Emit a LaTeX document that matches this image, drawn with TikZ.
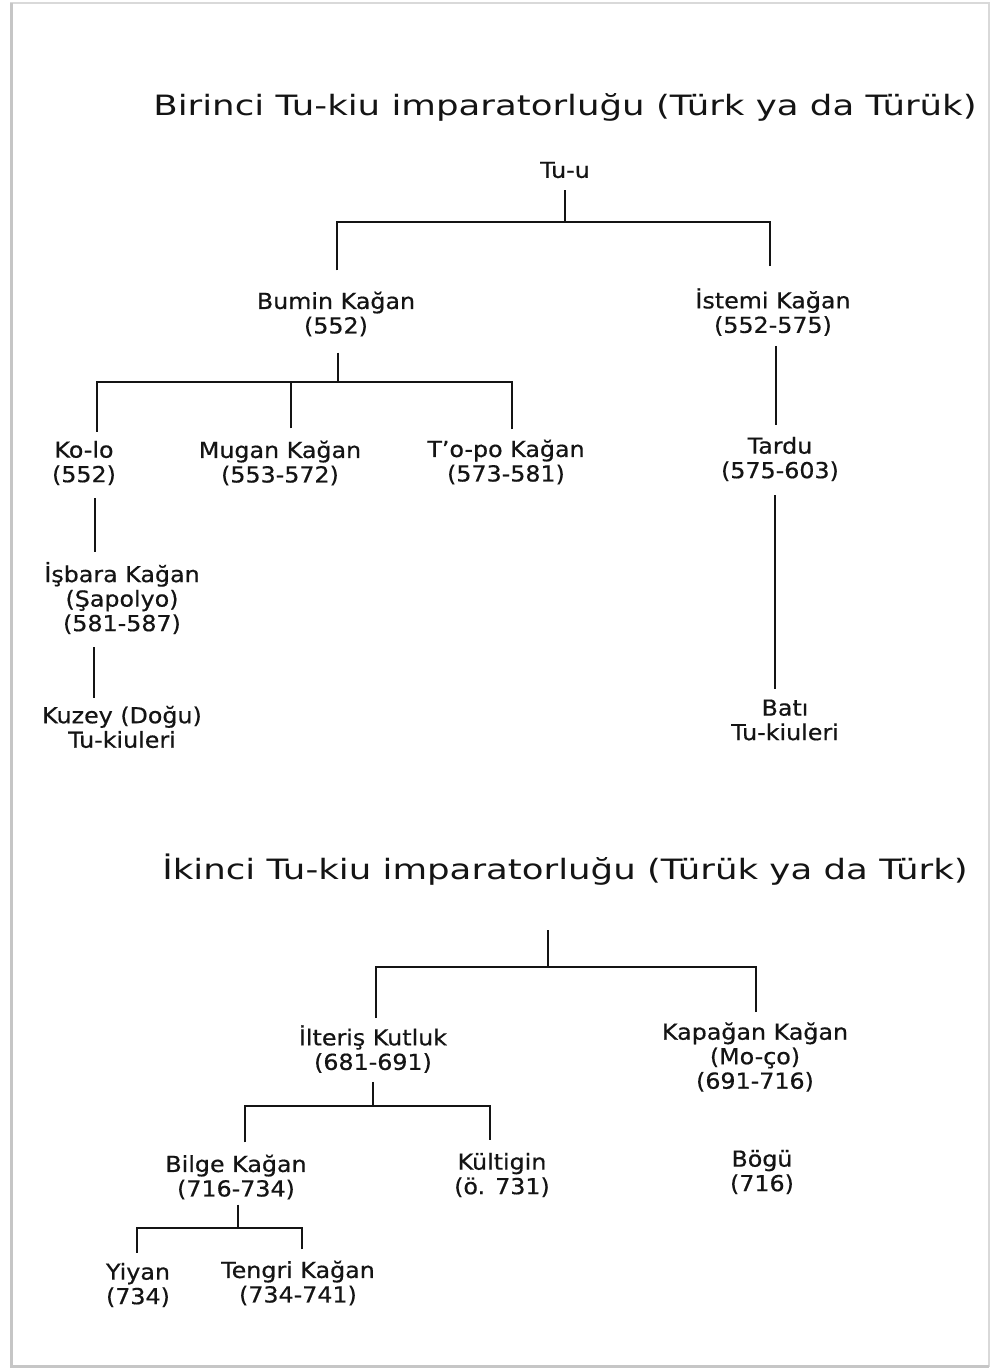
\documentclass[tikz,border=0pt]{standalone}
\usepackage{fontspec}
\setmainfont{DejaVu Sans}
\newfontfamily\lblfont[FakeStretch=1.08,FakeBold=0.6]{DejaVu Sans}
\newfontfamily\ttlfont[FakeStretch=1.27]{DejaVu Sans}
\begin{document}
\begin{tikzpicture}[x=1pt,y=-1pt,
  lbl/.style={align=center, inner sep=0pt, text=black!92, font=\lblfont\fontsize{22}{24.5}\selectfont},
  lblc/.style={align=center, inner sep=0pt, text=black!92, font=\lblfont\fontsize{22}{24.5}\selectfont},
  ttl/.style={inner sep=0pt, text=black!92, font=\ttlfont\fontsize{28}{32}\selectfont},
  conn/.style={line width=2.8pt, black!92},
  frame/.style={draw=gray!30, line width=1.5pt}
  ]
\useasboundingbox (0,0) rectangle (993,1371);
% page frame
\draw[frame] (11,3) rectangle (989,1366);
\draw[gray!45, line width=3pt] (11,3) -- (11,1366) -- (989,1366);

% ---------- first empire ----------
\node[ttl] (t1) at (565,107) {Birinci Tu-kiu imparatorluğu (Türk ya da Türük)};
\node[lbl] (tuu) at (565,170) {Tu-u};
\node[lbl] (bumin) at (336,314) {Bumin Kağan\\(552)};
\node[lbl] (istemi) at (773,312) {İstemi Kağan\\(552-575)};
\node[lbl] (kolo) at (84,463) {Ko-lo\\(552)};
\node[lbl] (mugan) at (280,463) {Mugan Kağan\\(553-572)};
\node[lbl] (topo) at (506,462) {T’o-po Kağan\\(573-581)};
\node[lbl] (tardu) at (780,459) {Tardu\\(575-603)};
\node[lbl] (isbara) at (122,598) {İşbara Kağan\\(Şapolyo)\\(581-587)};
\node[lbl] (kuzey) at (122,727) {Kuzey (Doğu)\\Tu-kiuleri};
\node[lbl] (bati) at (785,720) {Batı\\Tu-kiuleri};

\coordinate (f1) at (565,222);
\coordinate (f2) at (338,382);
\draw[conn, shorten <=12pt] (tuu.south) -- (f1);
\draw[conn, shorten <=21pt] ([xshift=1pt]bumin.north) |- (f1);
\draw[conn, shorten <=22pt] ([xshift=-3pt]istemi.north) |- (f1);
\draw[conn, shorten <=16pt] (f2 |- bumin.south) -- (f2);
\draw[conn, shorten <=9pt] ([xshift=13pt]kolo.north) |- (f2);
\draw[conn, shorten <=12pt] ([xshift=11pt]mugan.north) |- (f2);
\draw[conn, shorten <=10pt] ([xshift=6pt]topo.north) |- (f2);
\draw[conn, shorten <=10pt, shorten >=12pt] ([xshift=3pt]istemi.south) -- ([xshift=-4pt]tardu.north);
\draw[conn, shorten <=14pt, shorten >=10pt] ([xshift=-5pt]tardu.south) -- ([xshift=-10pt]bati.north);
\draw[conn, shorten <=13pt, shorten >=10pt] ([xshift=11pt]kolo.south) -- ([xshift=-27pt]isbara.north);
\draw[conn, shorten <=13pt, shorten >=8pt] ([xshift=-28pt]isbara.south) -- ([xshift=-28pt]kuzey.north);

% ---------- second empire ----------
\node[ttl] (t2) at (565,870) {İkinci Tu-kiu imparatorluğu (Türük ya da Türk)};
\node[lblc] (ilteris) at (373,1049) {İlteriş Kutluk\\(681-691)};
\node[lblc] (kapagan) at (755,1057) {Kapağan Kağan\\(Mo-ço)\\(691-716)};
\node[lblc] (bilge) at (236,1177) {Bilge Kağan\\(716-734)};
\node[lblc] (kultigin) at (502,1175) {Kültigin\\(ö. 731)};
\node[lblc] (bogu) at (762,1172) {Bögü\\(716)};
\node[lblc] (yiyan) at (138,1285) {Yiyan\\(734)};
\node[lblc] (tengri) at (298,1283) {Tengri Kağan\\(734-741)};

\coordinate (root2) at (548,930);
\coordinate (f3) at (548,967);
\coordinate (f4) at (373,1106);
\coordinate (f5) at (238,1228);
\draw[conn] (root2) -- (f3);
\draw[conn, shorten <=7pt] ([xshift=3pt]ilteris.north) |- (f3);
\draw[conn, shorten <=10pt] ([xshift=1pt]kapagan.north) |- (f3);
\draw[conn, shorten <=9pt] (f4 |- ilteris.south) -- (f4);
\draw[conn, shorten <=12pt] ([xshift=9pt]bilge.north) |- (f4);
\draw[conn, shorten <=13pt] ([xshift=-12pt]kultigin.north) |- (f4);
\draw[conn, shorten <=5pt] (f5 |- bilge.south) -- (f5);
\draw[conn, shorten <=10pt] ([xshift=-1pt]yiyan.north) |- (f5);
\draw[conn, shorten <=11pt] ([xshift=4pt]tengri.north) |- (f5);
\end{tikzpicture}
\end{document}
